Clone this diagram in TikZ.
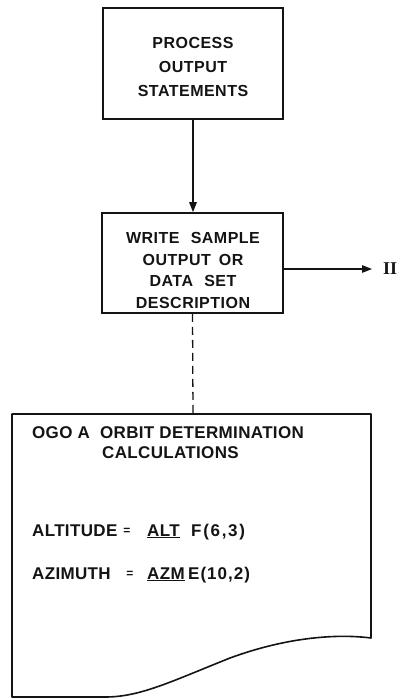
\documentclass[tikz,border=0pt]{standalone}
\usepackage{fontspec}
\usetikzlibrary{arrows.meta}
\newfontfamily\lettering{Liberation Sans}
\newfontfamily\numeralfont{Liberation Serif}
\definecolor{ink}{RGB}{20,20,20}
\tikzset{
  flowbox/.style={draw=ink, line width=1.6pt, inner sep=0pt},
  boxtext/.style={font=\lettering\bfseries\fontsize{16}{#1}\selectfont\addfontfeatures{LetterSpace=3}, text=ink, align=center, inner sep=0pt},
  doctext/.style={font=\lettering\bfseries\fontsize{17}{21}\selectfont\addfontfeatures{LetterSpace=2}, text=ink, anchor=base west, inner sep=0pt},
  eqsign/.style={font=\lettering\bfseries\fontsize{12}{12}\selectfont, text=ink, anchor=base, inner sep=0pt},
  flow/.style={draw=ink, line width=1.3pt, -{Triangle[length=10pt,width=7.5pt]}},
  link/.style={draw=ink, line width=1.3pt, dash pattern=on 8pt off 5pt},
  paper/.style={draw=ink, line width=1.6pt, line join=round},
}
\begin{document}
\begin{tikzpicture}[x=1pt,y=-1pt]
\useasboundingbox (0,0) rectangle (401,699);

% process box
\node[flowbox, minimum width=180pt, minimum height=111pt] (process) at (193,63.5) {};
\node[boxtext=24pt] (processtxt) at (193,67) {PROCESS\\OUTPUT\\STATEMENTS};

% write box
\node[flowbox, minimum width=181pt, minimum height=100pt] (write) at (192.5,263) {};
\node[boxtext=21.7pt] (writetxt) at (193,270.5) {WRITE\hspace{0.7em}SAMPLE\\OUTPUT\hspace{0.5em}OR\\DATA\hspace{0.7em}SET\\DESCRIPTION};

% exit to connector II
\node[font=\numeralfont\bfseries\fontsize{18}{18}\selectfont, text=ink, anchor=west, inner sep=0pt] (exit) at (383,269) {II};
\coordinate (exitstart) at (write.east |- exit.west);
\draw[flow] (exitstart) -- ([xshift=-11pt]exit.west);

\draw[flow] (process.south) -- (process.south |- write.north);

% printed output page
\coordinate (pagetop) at (193,414);
\draw[paper] (12,414) -- (371,414) -- (371,638)
  .. controls (340,634) and (290,636) .. (230,658)
  .. controls (170,682) and (140,697) .. (105,697)
  -- (12,697) -- cycle;
\draw[link] (write.south) -- (pagetop);

\node[doctext] (title) at (32,438) {OGO A\hspace{0.6em}ORBIT DETERMINATION};
\node[doctext] (title2) at (102,458) {CALCULATIONS};

% altitude format line
\node[doctext] (altname) at (32,536) {ALTITUDE};
\node[eqsign] (alteq) at (127,534) {=};
\node[doctext] (altvar) at (147,536) {\underline{ALT}};
\node[doctext] (altfmt) at (191,536) {\addfontfeatures{LetterSpace=10}F\hspace{0.1em}(6,3)};

% azimuth format line
\node[doctext] (azmname) at (32,579) {AZIMUTH};
\node[eqsign] (azmeq) at (130,577) {=};
\node[doctext] (azmvar) at (147,579) {\underline{AZM}};
\node[doctext] (azmfmt) at (188,579) {\addfontfeatures{LetterSpace=6}E(10,2)};
\end{tikzpicture}
\end{document}
